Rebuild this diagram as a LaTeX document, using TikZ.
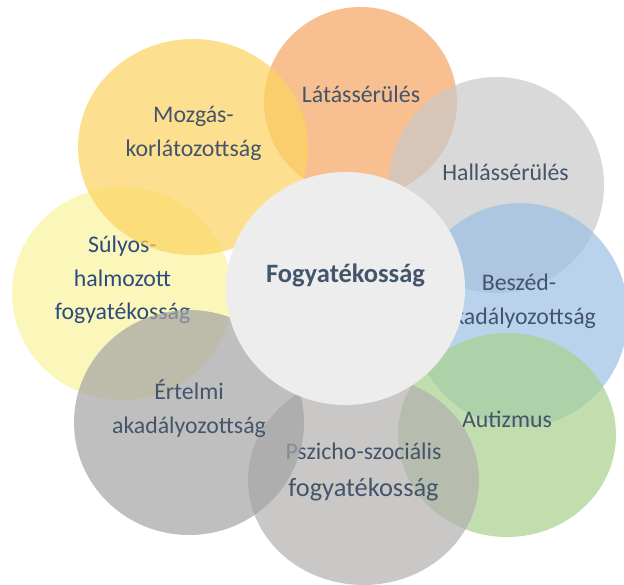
\documentclass[tikz,border=0pt]{standalone}
\usepackage{fontspec}
\setmainfont{Carlito}
\definecolor{txt}{HTML}{44546A}
\definecolor{txtblue}{HTML}{2B4C7E}
\definecolor{cLatas}{RGB}{245,164,98}
\definecolor{cHallas}{RGB}{201,201,201}
\definecolor{cBeszed}{RGB}{156,192,228}
\definecolor{cAuti}{RGB}{168,208,141}
\definecolor{cPszi}{RGB}{178,176,175}
\definecolor{cSulyos}{RGB}{249,242,156}
\definecolor{cErt}{RGB}{164,164,164}
\definecolor{cMozg}{RGB}{252,211,95}
\definecolor{cCentral}{HTML}{EDEDED}
\begin{document}
\begin{tikzpicture}[x=1pt,y=-1pt,
  bubble/.style={fill opacity=0.7},
  lbl/.style={text=txt,align=center,anchor=base,inner sep=0pt,
    font=\fontsize{23.8}{34}\selectfont},
  centrallbl/.style={text=txt,anchor=base,inner sep=0pt,
    font=\fontsize{26.5}{32}\selectfont\bfseries}]
\useasboundingbox (0,0) rectangle (624,585);
% Látássérülés
\fill[cLatas,bubble] (360.5,102) ellipse [x radius=96.5, y radius=95];
\node[lbl] (latas) at (361,103) {Látássérülés};
% Hallássérülés
\fill[cHallas,bubble] (496.5,185) ellipse [x radius=107.5, y radius=108];
\node[lbl] (hallas) at (505.5,181) {Hallássérülés};
% Beszéd
\fill[cBeszed,bubble] (520,315) ellipse [x radius=108, y radius=112];
\node[lbl] (beszed) at (519,325) {Beszéd-\\akadályozottság};
% Autizmus
\fill[cAuti,bubble] (507,435) ellipse [x radius=109, y radius=102];
\node[lbl] (auti) at (507,427) {Autizmus};
% Pszicho-szociális
\fill[cPszi,bubble] (363.5,480) ellipse [x radius=115.5, y radius=105];
\node[lbl,font=\fontsize{23.8}{37}\selectfont] (pszi) at (363.5,496) {Pszicho-szociális\\{\fontsize{26.4}{37}\selectfont fogyatékosság}};
% Súlyos-halmozott
\fill[cSulyos,bubble] (122,293.5) ellipse [x radius=110, y radius=106.5];
\node[lbl,text=txtblue,font=\fontsize{23.8}{33.5}\selectfont] (sulyos) at (122.5,320) {Súlyos-\\halmozott\\fogyatékosság};
% Értelmi
\fill[cErt,bubble] (189,422.5) ellipse [x radius=115, y radius=112.5];
\node[lbl] (ertelmi) at (189,433) {Értelmi\\akadályozottság};
% Mozgás
\fill[cMozg,bubble] (193,147) ellipse [x radius=115, y radius=108];
\node[lbl] (mozgas) at (193.5,157) {Mozgás-\\korlátozottság};
% Central
\fill[cCentral] (345.5,288.5) ellipse [x radius=119.5, y radius=116.5];
\node[centrallbl] (center) at (345.5,283) {Fogyatékosság};
\end{tikzpicture}
\end{document}
